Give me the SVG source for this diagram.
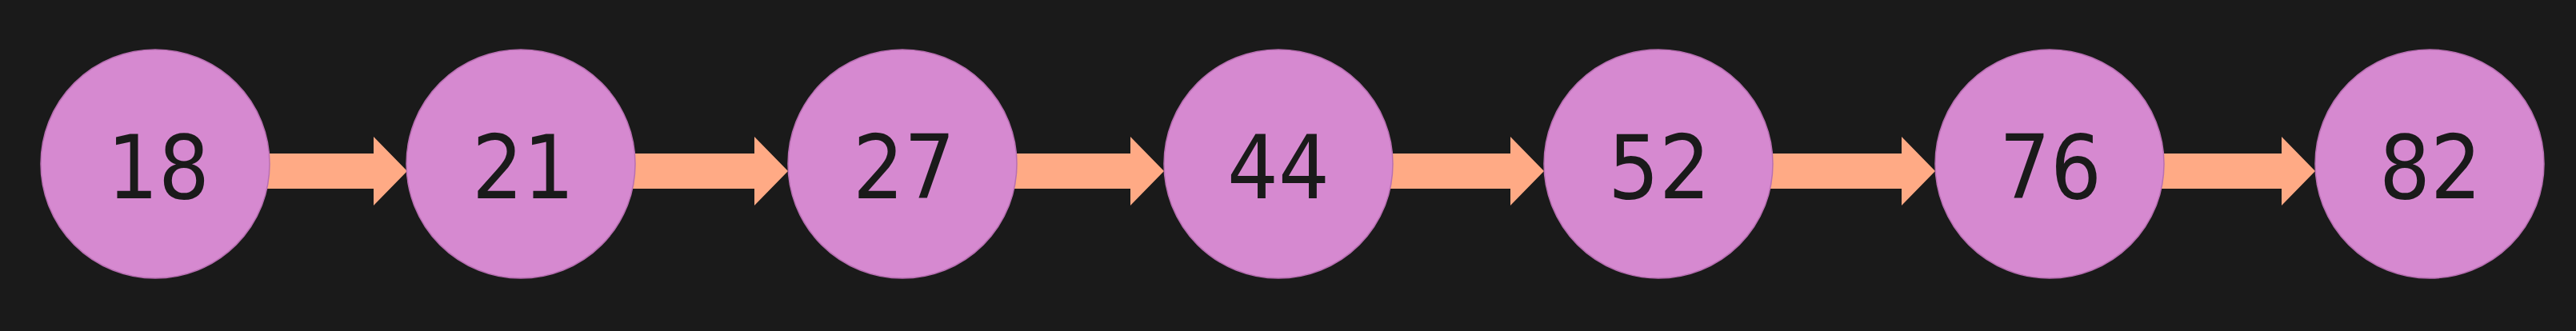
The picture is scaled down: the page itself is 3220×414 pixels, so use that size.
<svg xmlns="http://www.w3.org/2000/svg" width="3220" height="414" viewBox="0 0 3220 414">
<style>
.bg{fill:#1a1a1a}
.n circle{fill:#d689d0;stroke:#b86fb2;stroke-width:1.5}
.n text{font-family:"DejaVu Sans",Verdana,sans-serif;font-size:111px;fill:#1a1a1a;text-anchor:middle}
.arr{fill:#ffaa85}
</style>
<rect class="bg" x="0" y="0" width="3220" height="414"/>
<g id="connectors">
<path class="arr" d="M300,192 H467 V171 L509,214 L467,257 V236 H300 Z"/>
<path class="arr" d="M760,192 H943 V171 L985,214 L943,257 V236 H760 Z"/>
<path class="arr" d="M1240,192 H1413 V171 L1455,214 L1413,257 V236 H1240 Z"/>
<path class="arr" d="M1710,192 H1888 V171 L1930,214 L1888,257 V236 H1710 Z"/>
<path class="arr" d="M2180,192 H2377 V171 L2419,214 L2377,257 V236 H2180 Z"/>
<path class="arr" d="M2670,192 H2852 V171 L2894,214 L2852,257 V236 H2670 Z"/>
</g>
<g id="n18" class="n"><circle cx="194" cy="205" r="143"/><text x="198" y="248" textLength="128" lengthAdjust="spacingAndGlyphs">18</text></g>
<g id="n21" class="n"><circle cx="651" cy="205" r="143"/><text x="654" y="248" textLength="128" lengthAdjust="spacingAndGlyphs">21</text></g>
<g id="n27" class="n"><circle cx="1128" cy="205" r="143"/><text x="1130" y="248" textLength="128" lengthAdjust="spacingAndGlyphs">27</text></g>
<g id="n44" class="n"><circle cx="1598" cy="205" r="143"/><text x="1598" y="248" textLength="128" lengthAdjust="spacingAndGlyphs">44</text></g>
<g id="n52" class="n"><circle cx="2073" cy="205" r="143"/><text x="2074" y="248" textLength="128" lengthAdjust="spacingAndGlyphs">52</text></g>
<g id="n76" class="n"><circle cx="2562" cy="205" r="143"/><text x="2563" y="248" textLength="128" lengthAdjust="spacingAndGlyphs">76</text></g>
<g id="n82" class="n"><circle cx="3037" cy="205" r="143"/><text x="3038" y="248" textLength="128" lengthAdjust="spacingAndGlyphs">82</text></g>
</svg>
